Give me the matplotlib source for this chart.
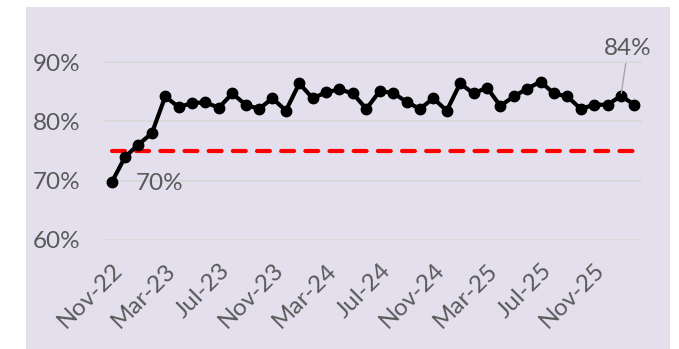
import numpy as np
import pandas as pd
import matplotlib
matplotlib.use("Agg")
import matplotlib.pyplot as plt
from matplotlib.patches import Rectangle
from matplotlib.ticker import FuncFormatter

# ------------------------------------------------------------
# Data (monthly, Nov-22 .. Feb-26)
# ------------------------------------------------------------
months = pd.date_range("2022-11-01", periods=40, freq="MS").strftime("%b-%y").tolist()

rate = [69.7, 74.0, 76.1, 78.0, 84.2, 82.4, 83.1, 83.2, 82.3, 84.7,
        82.8, 82.1, 83.9, 81.8, 86.4, 83.9, 84.9, 85.4, 84.7, 82.1,
        85.1, 84.8, 83.3, 82.1, 83.9, 81.8, 86.4, 84.7, 85.7, 82.6,
        84.2, 85.5, 86.7, 84.7, 84.2, 82.1, 82.8, 82.8, 84.3, 82.8]
target = [75.0] * len(months)

tick_idx = list(range(0, len(months), 4))
yticks = [60, 70, 80, 90]

# labelled points: (index, text)
callouts = [(0, "70%"), (38, "84%")]

# ------------------------------------------------------------
# Style
# ------------------------------------------------------------
BG = "#E4DFEC"
GREY_TXT = "#595959"
GRID = "#D9D9D9"

plt.rcParams["font.family"] = ["Lato", "DejaVu Sans"]

fig = plt.figure(figsize=(6.79, 3.49), dpi=100)
fig.patch.set_facecolor("white")
bg = Rectangle((26 / 679, 0), 644 / 679, 342 / 349,
               transform=fig.transFigure, facecolor=BG,
               edgecolor="none", zorder=-10)
fig.add_artist(bg)

ax = fig.add_axes([104 / 679, 109 / 349, 538 / 679, 207.6 / 349])
ax.set_facecolor("none")

x = np.arange(len(months))

ax.plot(x, target, color="#FF0000", lw=3.0, dashes=(3.1, 2.7),
        dash_capstyle="round", zorder=2)
ax.plot(x, rate, color="black", lw=3.0, marker="o", markersize=7.5,
        solid_joinstyle="round", zorder=3)

# callouts
i0, t0 = callouts[0]
ax.annotate(t0, xy=(x[i0], rate[i0]), xytext=(17, -1), textcoords="offset points",
            ha="left", va="center", fontsize=17.5, color=GREY_TXT)
i1, t1 = callouts[1]
ax.annotate(t1, xy=(x[i1], rate[i1]), xytext=(5, 34), textcoords="offset points",
            ha="center", va="center", fontsize=17.5, color=GREY_TXT,
            arrowprops=dict(arrowstyle="-", color="#A6A6A6", lw=1.0,
                            shrinkA=1, shrinkB=2))

# axes
ax.set_xlim(-0.57, len(months) - 0.43)
ax.set_ylim(60, 95)
ax.set_yticks(yticks)
ax.yaxis.set_major_formatter(FuncFormatter(lambda v, p: f"{v:.0f}%"))
ax.set_xticks(tick_idx)
ax.set_xticklabels([months[i] for i in tick_idx], rotation=45, ha="right",
                   rotation_mode="anchor")
ax.tick_params(axis="both", length=0, labelsize=17.5, labelcolor=GREY_TXT)
ax.tick_params(axis="x", pad=14)
ax.tick_params(axis="y", pad=17)
ax.grid(axis="y", color=GRID, lw=1.3)
ax.set_axisbelow(True)
for s in ax.spines.values():
    s.set_visible(False)

fig.savefig("out.png", dpi=100, facecolor="white")
